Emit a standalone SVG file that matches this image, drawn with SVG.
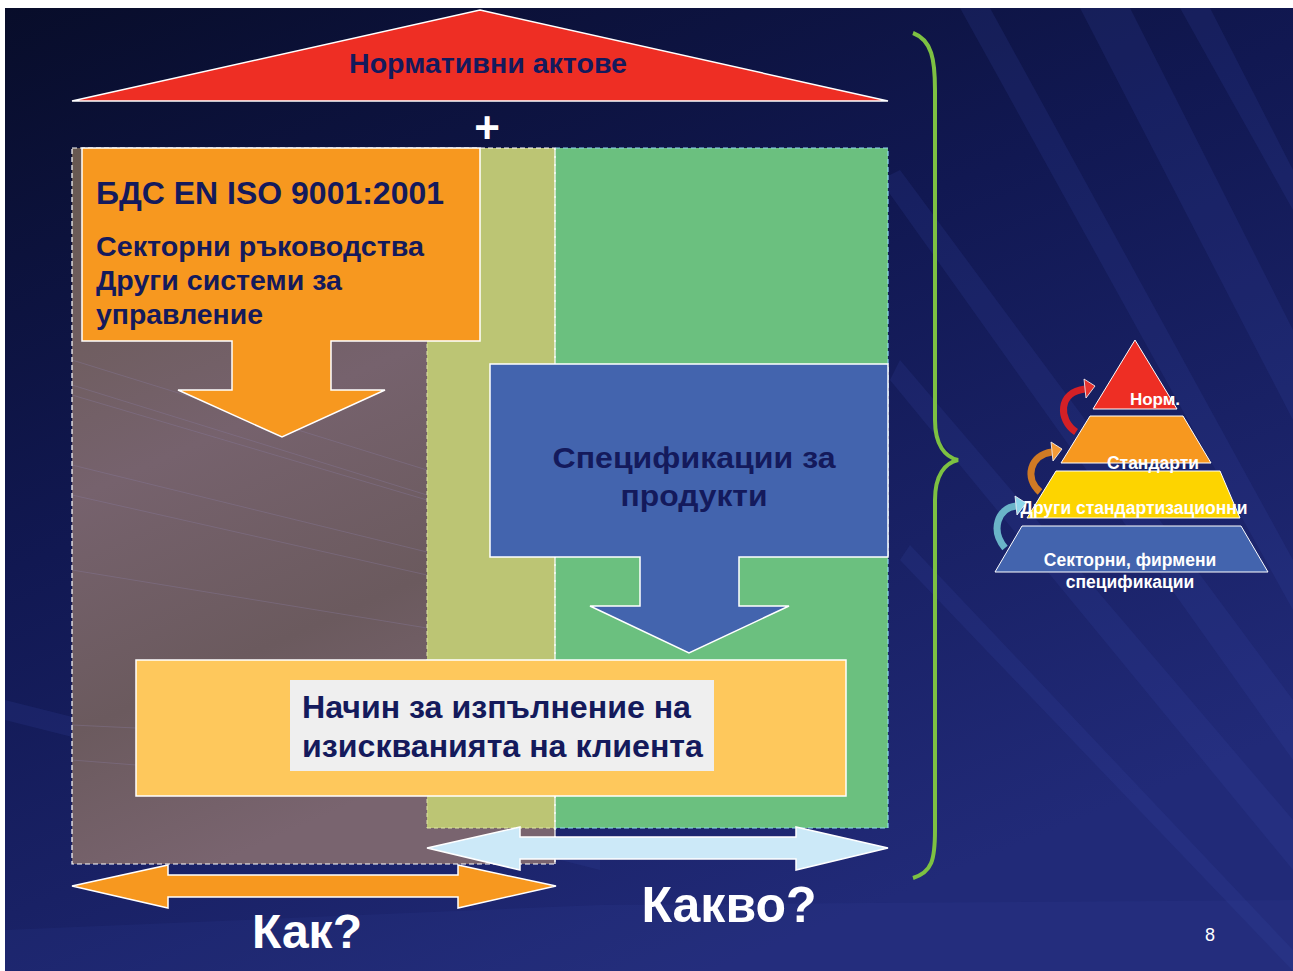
<svg xmlns="http://www.w3.org/2000/svg" width="1293" height="971" viewBox="0 0 1293 971">
<defs>
<linearGradient id="bg" x1="0" y1="0" x2="0.55" y2="1">
<stop offset="0" stop-color="#080d2a"/>
<stop offset="0.45" stop-color="#111852"/>
<stop offset="1" stop-color="#212a78"/>
</linearGradient>
<linearGradient id="mauve" x1="0" y1="0" x2="0.3" y2="1">
<stop offset="0" stop-color="#675850"/>
<stop offset="0.45" stop-color="#76626d"/>
<stop offset="0.75" stop-color="#6b5a5e"/>
<stop offset="1" stop-color="#79646f"/>
</linearGradient>
<style>
.t{font-family:"Liberation Sans",Arial,sans-serif;font-weight:bold;fill:#141a5c}
.w{font-family:"Liberation Sans",Arial,sans-serif;font-weight:bold;fill:#ffffff}
.edge{stroke:#ffffff;stroke-width:1.5}
.ray{fill:#3a47a8;opacity:0.18}
.dash{fill:none;stroke:#ffffff;stroke-width:1.2;stroke-dasharray:5,3}
</style>
</defs>
<rect x="0" y="0" width="1293" height="971" fill="#ffffff"/>
<rect x="5" y="8" width="1288" height="963" fill="url(#bg)"/>
<g id="rays">
<polygon class="ray" points="1080,8 1130,8 1293,330 1293,420"/>
<polygon class="ray" points="960,8 990,8 1293,560 1293,610"/>
<polygon class="ray" points="1180,8 1210,8 1293,170 1293,210"/>
<polygon class="ray" points="880,180 900,170 1293,700 1293,760"/>
<polygon class="ray" points="890,380 900,360 1293,820 1293,870"/>
<polygon class="ray" points="5,700 5,720 600,870 600,850"/>
<polygon class="ray" points="900,560 910,545 1293,950 1293,971"/>
<polygon class="ray" points="5,930 600,905 1293,900 1293,971 5,971" style="opacity:0.12"/>
</g>
<g id="roof">
<polygon points="480,10 888,101 72,101" fill="#ee2e24" class="edge"/>
<text class="t" x="488" y="73" font-size="28" text-anchor="middle" textLength="278" lengthAdjust="spacingAndGlyphs">Нормативни актове</text>
</g>
<text id="plus" class="w" x="487" y="143" font-size="44" text-anchor="middle">+</text>
<g id="columns">
<rect x="72" y="148" width="483" height="716" fill="url(#mauve)"/>
<g stroke="#8a7ca0" stroke-width="0.6" opacity="0.6">
<line x1="72" y1="360" x2="427" y2="470"/>
<line x1="72" y1="385" x2="427" y2="495"/>
<line x1="72" y1="395" x2="427" y2="500"/>
<line x1="72" y1="465" x2="427" y2="552"/>
<line x1="72" y1="495" x2="427" y2="575"/>
<line x1="72" y1="570" x2="427" y2="628"/>
<line x1="72" y1="725" x2="136" y2="728"/>
<line x1="72" y1="760" x2="136" y2="765"/>
</g>
<rect x="427" y="148" width="128" height="680" fill="#bcc574"/>
<rect x="555" y="148" width="333" height="680" fill="#6bc07f"/>
<line x1="427" y1="148" x2="427" y2="828" stroke="#dfe6a8" stroke-width="1" stroke-dasharray="4,3"/>
<line x1="427" y1="828" x2="555" y2="828" stroke="#dfe6a8" stroke-width="1" stroke-dasharray="4,3"/>
<line x1="555" y1="148" x2="555" y2="864" stroke="#ffffff" stroke-width="1.2" stroke-dasharray="5,3"/>
<polyline points="555,148 888,148 888,828 555,828" fill="none" stroke="#8fd8f0" stroke-width="1.2" stroke-dasharray="5,3"/>
<rect class="dash" x="72" y="148" width="483" height="716"/>
</g>
<g id="iso">
<polygon points="82,148 480,148 480,341 331,341 331,390 385,390 282,437 178,390 232,390 232,341 82,341" fill="#f7981f" class="edge"/>
<text class="t" x="96" y="204" font-size="32" textLength="348" lengthAdjust="spacingAndGlyphs">БДС EN ISO 9001:2001</text>
<text class="t" x="96" y="256" font-size="28" textLength="328" lengthAdjust="spacingAndGlyphs">Секторни ръководства</text>
<text class="t" x="96" y="290" font-size="28" textLength="246" lengthAdjust="spacingAndGlyphs">Други системи за</text>
<text class="t" x="96" y="324" font-size="28" textLength="167" lengthAdjust="spacingAndGlyphs">управление</text>
</g>
<g id="specs">
<polygon points="490,364 888,364 888,557 739,557 739,606 789,606 689,653 590,606 640,606 640,557 490,557" fill="#4364ae" class="edge"/>
<text class="t" x="694" y="468" font-size="30" text-anchor="middle" textLength="283" lengthAdjust="spacingAndGlyphs">Спецификации за</text>
<text class="t" x="694" y="506" font-size="30" text-anchor="middle" textLength="147" lengthAdjust="spacingAndGlyphs">продукти</text>
</g>
<g id="method">
<rect x="136" y="660" width="710" height="136" fill="#fec85c" class="edge"/>
<rect x="290" y="680" width="424" height="91" fill="#efefef"/>
<text class="t" x="302" y="718" font-size="31" textLength="389" lengthAdjust="spacingAndGlyphs">Начин за изпълнение на</text>
<text class="t" x="302" y="757" font-size="31" textLength="401" lengthAdjust="spacingAndGlyphs">изискванията на клиента</text>
</g>
<g id="connectors">
<polygon points="427,848 520,827 520,837 796,837 796,827 888,848 796,870 796,859 520,859 520,870" fill="#cce9f8" class="edge"/>
<polygon points="72,886 168,865 168,875 458,875 458,865 556,886 458,908 458,897 168,897 168,908" fill="#f7981f" class="edge"/>
<path d="M913,33 C932,40 935,60 935,90 L935,420 C935,445 945,457 958,460 C945,463 935,475 935,500 L935,830 C935,860 932,872 913,878" fill="none" stroke="#7dc142" stroke-width="4"/>
</g>
<g id="how">
<text class="w" x="307" y="948" font-size="48" text-anchor="middle">Как?</text>
</g>
<g id="what">
<text class="w" x="729" y="922" font-size="50" text-anchor="middle">Какво?</text>
</g>
<g id="pyramid">
<polygon points="1135,340 1177,409 1093,409" fill="#ee2e24" stroke="#ffffff" stroke-width="1"/>
<polygon points="1090,416 1183,416 1211,463 1061,463" fill="#f7981f" stroke="#ffffff" stroke-width="1"/>
<polygon points="1056,471 1220,471 1240,518 1027,518" fill="#fdd400" stroke="#ffffff" stroke-width="1"/>
<polygon points="1022,526 1241,526 1268,572 995,572" fill="#4364ae" stroke="#ffffff" stroke-width="1"/>
<text class="w" x="1155" y="405" font-size="17" text-anchor="middle">Норм.</text>
<text class="w" x="1153" y="469" font-size="17.5" text-anchor="middle">Стандарти</text>
<text class="w" x="1134" y="514" font-size="17.5" text-anchor="middle">Други стандартизационни</text>
<text class="w" x="1130" y="566" font-size="17.5" text-anchor="middle">Секторни, фирмени</text>
<text class="w" x="1130" y="588" font-size="17.5" text-anchor="middle">спецификации</text>
<path d="M1076,432 C1058,420 1058,392 1085,389" fill="none" stroke="#d42026" stroke-width="7"/>
<polygon points="1084,379 1095,386 1086,398" fill="#e8332e" stroke="#ffffff" stroke-width="0.8"/>
<path d="M1040,492 C1024,478 1030,455 1052,452" fill="none" stroke="#d07a24" stroke-width="7"/>
<polygon points="1051,442 1062,449 1053,461" fill="#f29a36" stroke="#ffffff" stroke-width="0.8"/>
<path d="M1005,548 C990,530 998,508 1016,506" fill="none" stroke="#6ab4c8" stroke-width="7"/>
<polygon points="1015,496 1026,503 1017,515" fill="#8ed6ea" stroke="#ffffff" stroke-width="0.8"/>
</g>
<text id="page" x="1210" y="941" font-family="Liberation Sans,Arial,sans-serif" font-size="18" fill="#ffffff" text-anchor="middle">8</text>
</svg>
